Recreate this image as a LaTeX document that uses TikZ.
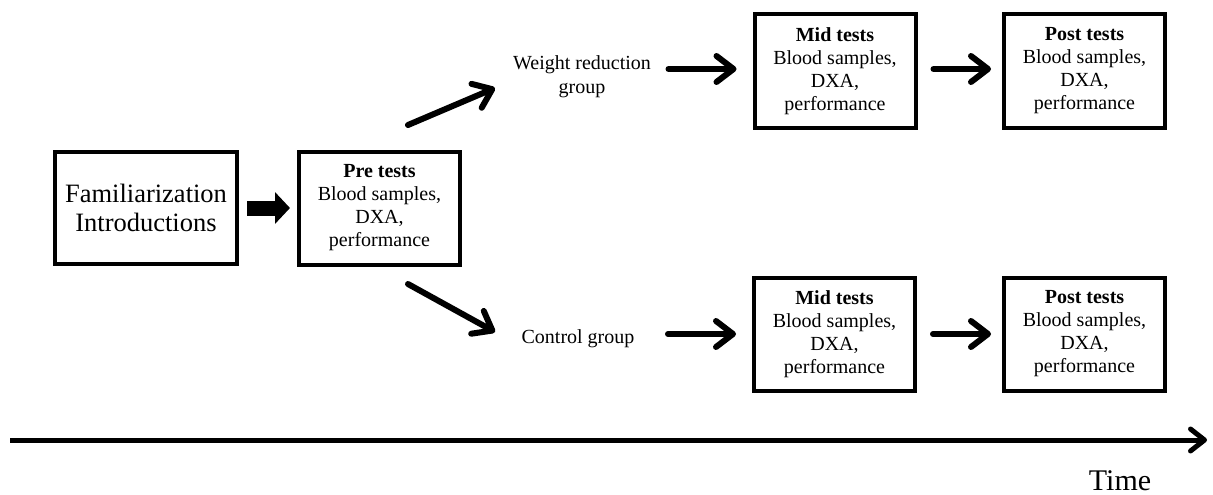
\documentclass[tikz,border=0pt]{standalone}
\usepackage{fontspec}
\setmainfont{Liberation Serif}
\usetikzlibrary{arrows.meta}
\begin{document}
\begin{tikzpicture}[x=1pt,y=-1pt,
  testbox/.style={draw=black, line width=4pt, fill=white, align=center,
    minimum width=161pt, minimum height=113pt, inner sep=0pt,
    font=\fontsize{20}{23}\selectfont},
  lbl/.style={align=center, inner sep=0pt, font=\fontsize{20}{24}\selectfont},
  arr/.style={line width=6pt, line cap=round,
    -{Straight Barb[length=17pt,width=26pt,line cap=round,line join=round]}},
  fatarr/.style={line width=15pt, -{Triangle[length=15pt,width=31pt]}}
]
\useasboundingbox (0,0) rectangle (1213,495);

\node[testbox, minimum width=182pt, minimum height=112pt,
  font=\fontsize{26.5}{29}\selectfont] (fam) at (146,208)
  {Familiarization\\Introductions};
\node[testbox] (pre) at (379.5,208)
  {\textbf{Pre tests}\\Blood samples,\\DXA,\\performance};
\node[testbox] (mid1) at (835,71)
  {\textbf{Mid tests}\\Blood samples,\\DXA,\\performance};
\node[testbox] (post1) at (1084.5,71)
  {\textbf{Post tests}\\Blood samples,\\DXA,\\performance};
\node[testbox] (mid2) at (834.5,334)
  {\textbf{Mid tests}\\Blood samples,\\DXA,\\performance};
\node[testbox] (post2) at (1084.5,334)
  {\textbf{Post tests}\\Blood samples,\\DXA,\\performance};

\node[lbl] (wr) at (582,77) {Weight reduction\\group};
\node[lbl] (cg) at (578,339) {Control group};
\node[inner sep=0pt, font=\fontsize{30}{32}\selectfont, anchor=base] (time) at (1120,490) {Time};

% fat arrow
\draw[fatarr, shorten <=8pt, shorten >=7pt] (fam.east) -- (pre.west);

% diagonal arrows
\coordinate (u0) at (408,125);
\coordinate (u1) at (495,88);
\coordinate (d0) at (408,284);
\coordinate (d1) at (495,332);
\draw[arr] (u0) -- (u1);
\draw[arr] (d0) -- (d1);

% horizontal arrows
\draw[arr] ([xshift=-84pt,yshift=2pt]mid1.west) -- ([xshift=-16pt,yshift=2pt]mid1.west);
\draw[arr] ([xshift=-84pt]mid2.west) -- ([xshift=-16pt]mid2.west);
\draw[arr, shorten <=16pt, shorten >=11pt] ([yshift=2pt]mid1.east) -- ([yshift=2pt]post1.west);
\draw[arr, shorten <=16pt, shorten >=11pt] (mid2.east) -- (post2.west);

% time axis
\coordinate (t0) at (10,440);
\coordinate (t1) at (1207,440);
\draw[line width=5pt,
  -{Straight Barb[length=14pt,width=22pt,line cap=round,line join=round]}] (t0) -- (t1);
\end{tikzpicture}
\end{document}
